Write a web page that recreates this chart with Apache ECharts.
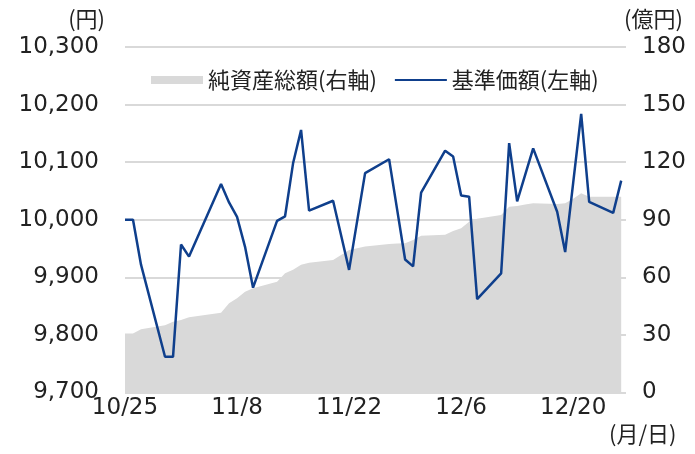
<!DOCTYPE html>
<html>
<head>
<meta charset="utf-8">
<script src="https://cdn.jsdelivr.net/npm/echarts@6/dist/echarts.min.js"></script>
<style>
  html, body { margin: 0; padding: 0; background: #fff; }
  #chart { width: 695px; height: 454px; }
</style>
</head>
<body>
<div id="chart"></div>
<script>
// 営業日 (2023)
const dates = [
  '2023-10-25','2023-10-26','2023-10-27','2023-10-30','2023-10-31',
  '2023-11-01','2023-11-02','2023-11-06','2023-11-07','2023-11-08','2023-11-09','2023-11-10',
  '2023-11-13','2023-11-14','2023-11-15','2023-11-16','2023-11-17',
  '2023-11-20','2023-11-21','2023-11-22','2023-11-24',
  '2023-11-27','2023-11-28','2023-11-29','2023-11-30','2023-12-01',
  '2023-12-04','2023-12-05','2023-12-06','2023-12-07','2023-12-08',
  '2023-12-11','2023-12-12','2023-12-13','2023-12-14','2023-12-15',
  '2023-12-18','2023-12-19','2023-12-20','2023-12-21','2023-12-22',
  '2023-12-25','2023-12-26'
]
// 基準価額(円)
const nav = [
  10000, 10000, 9922, 9762, 9762,
  9957, 9936, 10062, 10030, 10005, 9953, 9882,
  9998, 10006, 10098, 10156, 10016,
  10033, 9973, 9913, 10081,
  10105, 10018, 9931, 9919, 10047,
  10120, 10110, 10042, 10040, 9862,
  9907, 10133, 10032, 10078, 10124,
  10014, 9944, 10064, 10184, 10031,
  10012, 10068
]
// 純資産総額(億円)
const assets = [
  30.8, 30.8, 33, 35, 36.9,
  37.8, 39.2, 41.6, 46.5, 49.1, 52.5, 54.3,
  57.7, 62.1, 64, 66.6, 67.6,
  69, 71.7, 74.3, 76,
  77.4, 77.6, 77.7, 79.5, 81.6,
  82.2, 84.2, 85.6, 89, 90.5,
  92.5, 96.8, 97.2, 98, 98.6,
  98.2, 98.6, 101, 103.8, 102,
  102, 102
]
const leftTicks = [9700, 10300, 100]
const rightTicks = [0, 180, 30]

const DAY = 86400000
const start = Date.parse(dates[0])
const days = dates.map(d => (Date.parse(d) - start) / DAY)

const numFont = "'DejaVu Sans', sans-serif"
const jpFont = "'Noto Sans CJK JP', sans-serif"
const textColor = '#222'

const myChart = echarts.init(document.getElementById('chart'))
const options = {
    animation: false,
    grid: {
        left: 125,
        right: 69,
        top: 47,
        bottom: 61.5
    },
    legend: {
        left: 151,
        top: 64,
        padding: [5, 0],
        itemWidth: 52,
        itemHeight: 8,
        itemGap: 17,
        textStyle: {
            fontFamily: jpFont,
            fontSize: 22,
            color: textColor
        },
        data: [
            { name: '純資産総額(右軸)', icon: 'rect', itemStyle: { color: '#d9d9d9' } },
            { name: '基準価額(左軸)', itemStyle: { opacity: 0 } }
        ]
    },
    xAxis: {
        type: 'value',
        min: 0,
        max: 62.6,
        interval: 14,
        axisLine: { show: false },
        axisTick: { show: false },
        splitLine: { show: false },
        axisLabel: {
            margin: 4,
            fontFamily: numFont,
            fontSize: 23,
            color: textColor,
            formatter: function (v) {
                if (v % 14 !== 0) return ''
                const d = new Date(start + v * DAY)
                return (d.getUTCMonth() + 1) + '/' + d.getUTCDate()
            }
        }
    },
    yAxis: [
        {
            type: 'value',
            min: leftTicks[0],
            max: leftTicks[1],
            interval: leftTicks[2],
            axisLine: { show: false },
            axisTick: { show: false },
            splitLine: { lineStyle: { color: '#d9d9d9', width: 2 } },
            axisLabel: {
                margin: 26,
                fontFamily: numFont,
                fontSize: 23,
                color: textColor,
                formatter: v => v.toLocaleString('en-US')
            }
        },
        {
            type: 'value',
            min: rightTicks[0],
            max: rightTicks[1],
            interval: rightTicks[2],
            axisLine: { show: false },
            axisTick: { show: false },
            splitLine: { show: false },
            axisLabel: {
                margin: 16,
                fontFamily: numFont,
                fontSize: 23,
                color: textColor
            }
        }
    ],
    graphic: [
        { type: 'text', right: 590, top: 8, style: { text: '(円)', font: "22px 'Noto Sans CJK JP'", fill: textColor } },
        { type: 'text', left: 624, top: 8, style: { text: '(億円)', font: "22px 'Noto Sans CJK JP'", fill: textColor } },
        { type: 'text', left: 609, top: 423, style: { text: '(月/日)', font: "22px 'Noto Sans CJK JP'", fill: textColor } }
    ],
    series: [
        {
            name: '純資産総額(右軸)',
            type: 'line',
            yAxisIndex: 1,
            symbol: 'none',
            data: days.map((d, i) => [d, assets[i]]),
            lineStyle: { width: 0 },
            itemStyle: { color: '#d9d9d9' },
            areaStyle: { color: '#d9d9d9', opacity: 1 },
            z: 2
        },
        {
            name: '基準価額(左軸)',
            type: 'line',
            yAxisIndex: 0,
            symbol: 'none',
            data: days.map((d, i) => [d, nav[i]]),
            lineStyle: { color: '#0f3f8c', width: 2.5 },
            itemStyle: { color: '#0f3f8c' },
            z: 3
        }
    ]
}
myChart.setOption(options)
</script>
</body>
</html>
